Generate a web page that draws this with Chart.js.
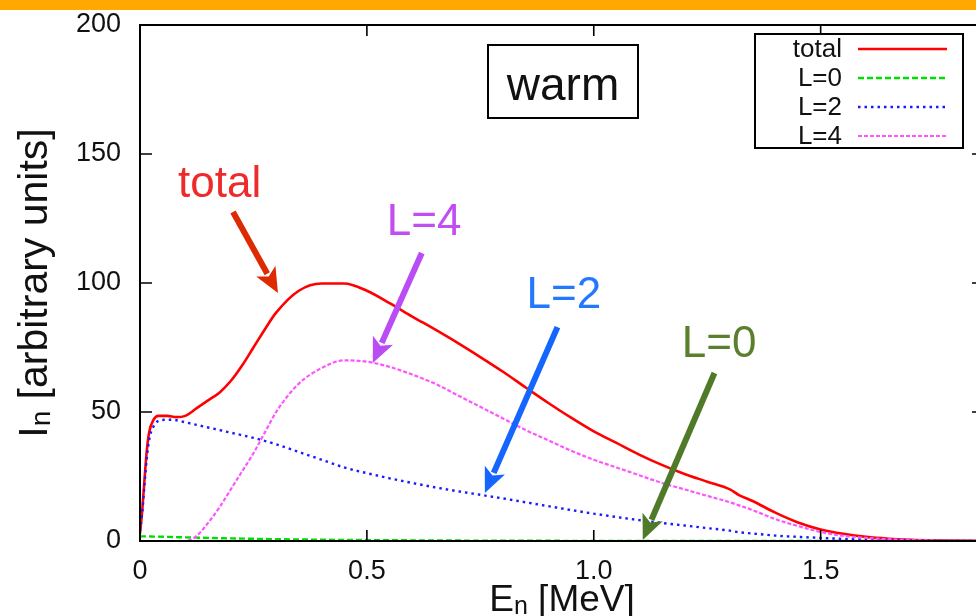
<!DOCTYPE html>
<html>
<head>
<meta charset="utf-8">
<title>Neutron spectrum - warm</title>
<script src="https://cdn.jsdelivr.net/npm/chart.js@4.4.0/dist/chart.umd.min.js"></script>
<style>
  html, body { margin: 0; padding: 0; background: #fff; overflow: hidden; }
  #wrap { position: relative; width: 976px; height: 616px; overflow: hidden; }
  #band { position: absolute; left: 0; top: 0; width: 976px; height: 10px; background: #ffa800; }
  canvas { position: absolute; left: 0; top: 0; }
</style>
</head>
<body>
<div id="wrap">
  <canvas id="spectrum" width="992" height="616"></canvas>
  <div id="band"></div>
</div>
<script>
// neutron energy grid [MeV]
var energy = [0, 0.005, 0.01, 0.015, 0.02, 0.03, 0.04, 0.06, 0.08, 0.1,
  0.125, 0.15, 0.175, 0.2, 0.225, 0.25, 0.275, 0.3, 0.35, 0.4,
  0.45, 0.5, 0.55, 0.6, 0.65, 0.7, 0.75, 0.8, 0.85, 0.9,
  0.95, 1.0, 1.05, 1.1, 1.15, 1.2, 1.25, 1.3, 1.32, 1.35,
  1.4, 1.45, 1.5, 1.55, 1.6, 1.65, 1.7, 1.75, 1.8, 1.86];

// intensities [arbitrary units]
var totalI = [3, 12, 24, 35, 42, 47, 48.5, 48.5, 48, 48.5,
  51.5, 54.5, 57.5, 62, 68, 75, 82, 88.5, 97, 99.8,
  99.8, 97, 92.2, 87, 82, 76.8, 71.3, 65.6, 59.5, 53.5,
  47.8, 42.5, 38, 33.5, 29.5, 26, 23, 20, 17.8, 15.5,
  11, 7.2, 4.5, 2.8, 1.6, 0.9, 0.5, 0.3, 0.2, 0.1];
var l0I = [1.8, 1.8, 1.8, 1.8, 1.8, 1.7, 1.7, 1.6, 1.5, 1.4,
  1.3, 1.2, 1.1, 1.0, 0.92, 0.85, 0.78, 0.7, 0.6, 0.5,
  0.42, 0.35, 0.3, 0.25, 0.2, 0.17, 0.14, 0.12, 0.1, 0.08,
  0.06, 0.05, 0.04, 0.03, 0.02, 0.02, 0.01, 0.01, 0.01, 0,
  0, 0, 0, 0, 0, 0, 0, 0, 0, 0];
var l2I = [4, 11, 22, 32, 39, 44.5, 46.5, 47, 46.8, 46,
  45, 44, 43, 42, 41, 40, 38.8, 37.5, 34.5, 31.5,
  28.5, 26.3, 24.3, 22.5, 20.8, 19.3, 17.9, 16.5, 15, 13.5,
  12, 10.6, 9.3, 8.1, 7, 6, 5, 4, 3.4, 2.9,
  2.1, 1.6, 1.2, 0.8, 0.5, 0.35, 0.2, 0.1, 0.05, 0];
var l4I = [0, 0, 0, 0, 0, 0, 0, 0, 0, 0,
  2, 7, 13, 20, 27, 34, 42, 50, 61, 67,
  70, 69.5, 67.5, 64.5, 61, 56.5, 52, 47.5, 43, 39,
  35, 31.5, 28.5, 25.5, 22.5, 20, 17.5, 15, 13.8, 12,
  8.5, 5.8, 3.5, 2, 1.2, 0.7, 0.4, 0.2, 0.1, 0];

var xTicks = [0, 0.5, 1, 1.5];
var yTicks = [0, 50, 100, 150, 200];

// arrow labels: text anchor and arrow tail/head in data units
var noteText = ['total', 'L=4', 'L=2', 'L=0'];
var noteAt = [[0.084, 133.3], [0.544, 118.6], [0.852, 90.3], [1.194, 71.3]];
var noteColor = ['#ee2b2b', '#c24ef2', '#2478ff', '#5b7f2f'];
var arrowFrom = [[0.205, 127.5], [0.621, 111.6], [0.92, 82.9], [1.266, 65.1]];
var arrowTo = [[0.304, 96.1], [0.513, 69.0], [0.76, 18.6], [1.108, 0.4]];
var arrowColor = ['#dd2a00', '#b94cf5', '#1466ff', '#4f7a28'];

var FONT = '"Liberation Sans", Arial, Helvetica, sans-serif';

function pts(arr) {
  return energy.map(function (e, i) { return { x: e, y: arr[i] }; });
}

function drawArrow(ctx, x1, y1, x2, y2, color, w) {
  var ang = Math.atan2(y2 - y1, x2 - x1);
  var len = 25, half = 11;
  var bx = x2 - len * Math.cos(ang), by = y2 - len * Math.sin(ang);
  ctx.strokeStyle = color;
  ctx.fillStyle = color;
  ctx.lineWidth = w;
  ctx.beginPath();
  ctx.moveTo(x1, y1);
  ctx.lineTo(bx + 3 * Math.cos(ang), by + 3 * Math.sin(ang));
  ctx.stroke();
  ctx.beginPath();
  ctx.moveTo(x2, y2);
  ctx.lineTo(bx + half * Math.sin(ang), by - half * Math.cos(ang));
  ctx.lineTo(bx + 6 * Math.cos(ang), by + 6 * Math.sin(ang));
  ctx.lineTo(bx - half * Math.sin(ang), by + half * Math.cos(ang));
  ctx.closePath();
  ctx.fill();
}

// text with a smaller, lowered subscript: parts = [[str, size, drop], ...]
function drawParts(ctx, parts, cx, baseY) {
  var total = 0;
  parts.forEach(function (p) {
    ctx.font = p[1] + 'px ' + FONT;
    total += ctx.measureText(p[0]).width;
  });
  var x = cx - total / 2;
  ctx.textAlign = 'left';
  ctx.textBaseline = 'alphabetic';
  parts.forEach(function (p) {
    ctx.font = p[1] + 'px ' + FONT;
    ctx.fillText(p[0], x, baseY + p[2]);
    x += ctx.measureText(p[0]).width;
  });
}

var framePlugin = {
  id: 'frame',
  afterDatasetsDraw: function (chart) {
    var ctx = chart.ctx, a = chart.chartArea;
    var xs = chart.scales.x, ys = chart.scales.y;
    ctx.save();

    // border and inward ticks on all four sides
    ctx.strokeStyle = '#000';
    ctx.lineWidth = 2;
    ctx.strokeRect(a.left, a.top, a.right - a.left, a.bottom - a.top);
    ctx.lineWidth = 1.6;
    ctx.beginPath();
    xTicks.forEach(function (v) {
      var px = xs.getPixelForValue(v);
      ctx.moveTo(px, a.bottom); ctx.lineTo(px, a.bottom - 11);
      ctx.moveTo(px, a.top); ctx.lineTo(px, a.top + 11);
    });
    yTicks.forEach(function (v) {
      var py = ys.getPixelForValue(v);
      ctx.moveTo(a.left, py); ctx.lineTo(a.left + 12, py);
      ctx.moveTo(a.right, py); ctx.lineTo(a.right - 12, py);
    });
    ctx.stroke();

    // axis titles
    ctx.fillStyle = '#111';
    drawParts(ctx, [['E', 37, 0], ['n', 25, 3], [' [MeV]', 37, 0]], (a.left + a.right) / 2, 611);
    ctx.save();
    ctx.translate(47, (a.top + a.bottom) / 2);
    ctx.rotate(-Math.PI / 2);
    drawParts(ctx, [['I', 41, 0], ['n', 28, 3], [' [arbitrary units]', 41, 0]], 0, 0);
    ctx.restore();

    // "warm" box
    var wx = a.left + 348, wy = a.top + 20;
    ctx.lineWidth = 2;
    ctx.strokeStyle = '#000';
    ctx.fillStyle = '#fff';
    ctx.fillRect(wx, wy, 150, 73);
    ctx.strokeRect(wx, wy, 150, 73);
    ctx.fillStyle = '#111';
    ctx.font = '46px ' + FONT;
    ctx.textAlign = 'center';
    ctx.fillText('warm', wx + 75, wy + 55);

    // key box
    var kr = a.right - 21, kl = kr - 208, kt = a.top + 9;
    ctx.fillStyle = '#fff';
    ctx.fillRect(kl, kt, kr - kl, 114);
    ctx.strokeStyle = '#000';
    ctx.strokeRect(kl, kt, kr - kl, 114);
    ctx.font = '26px ' + FONT;
    ctx.textAlign = 'right';
    ctx.textBaseline = 'middle';
    chart.data.datasets.forEach(function (ds, i) {
      var ry = kt + 15 + i * 29;
      ctx.fillStyle = '#111';
      ctx.fillText(ds.label, kl + 87, ry + 1);
      ctx.strokeStyle = ds.borderColor;
      ctx.lineWidth = ds.borderWidth;
      ctx.setLineDash(ds.borderDash || []);
      ctx.beginPath();
      ctx.moveTo(kl + 103, ry);
      ctx.lineTo(kl + 192, ry);
      ctx.stroke();
      ctx.setLineDash([]);
    });

    // labelled arrows
    ctx.font = '44px ' + FONT;
    ctx.textAlign = 'left';
    ctx.textBaseline = 'alphabetic';
    noteText.forEach(function (t, i) {
      ctx.fillStyle = noteColor[i];
      ctx.fillText(t, xs.getPixelForValue(noteAt[i][0]), ys.getPixelForValue(noteAt[i][1]));
      drawArrow(ctx,
        xs.getPixelForValue(arrowFrom[i][0]), ys.getPixelForValue(arrowFrom[i][1]),
        xs.getPixelForValue(arrowTo[i][0]), ys.getPixelForValue(arrowTo[i][1]),
        arrowColor[i], 6);
    });

    ctx.restore();
  }
};

var ctx = document.getElementById('spectrum');

var spectrumData = {
  datasets: [
    { label: 'total', data: pts(totalI), borderColor: '#ff0000', borderWidth: 2.6, order: 4 },
    { label: 'L=0', data: pts(l0I), borderColor: '#00dd00', borderWidth: 2.4, borderDash: [6, 3], order: 3 },
    { label: 'L=2', data: pts(l2I), borderColor: '#1a1aff', borderWidth: 2.4, borderDash: [2.5, 4], order: 2 },
    { label: 'L=4', data: pts(l4I), borderColor: '#ff55ff', borderWidth: 2.2, borderDash: [4, 2], order: 1 }
  ]
};

var spectrumOpts = {
  responsive: false,
  animation: false,
  devicePixelRatio: 1,
  layout: { padding: { top: 25, right: 8, left: 0, bottom: 0 } },
  elements: {
    point: { radius: 0 },
    line: { cubicInterpolationMode: 'monotone', fill: false }
  },
  plugins: { legend: { display: false }, tooltip: { enabled: false } },
  scales: {
    x: {
      type: 'linear', min: 0, max: 1.86,
      grid: { display: false, drawTicks: false },
      border: { display: false },
      afterBuildTicks: function (s) { s.ticks = xTicks.map(function (v) { return { value: v }; }); },
      afterFit: function (s) { s.height = 75; s.paddingLeft = 0; s.paddingRight = 0; },
      ticks: { padding: 14, color: '#111', font: { family: FONT, size: 27 }, maxRotation: 0 }
    },
    y: {
      type: 'linear', min: 0, max: 200,
      grid: { display: false, drawTicks: false },
      border: { display: false },
      afterBuildTicks: function (s) { s.ticks = yTicks.map(function (v) { return { value: v }; }); },
      afterFit: function (s) { s.width = 140; s.paddingTop = 0; s.paddingBottom = 0; },
      ticks: { padding: 19, color: '#111', font: { family: FONT, size: 27 } }
    }
  }
};

var myChart = new Chart(ctx, {
  type: 'line',
  data: spectrumData,
  options: spectrumOpts,
  plugins: [framePlugin]
});
</script>
</body>
</html>
